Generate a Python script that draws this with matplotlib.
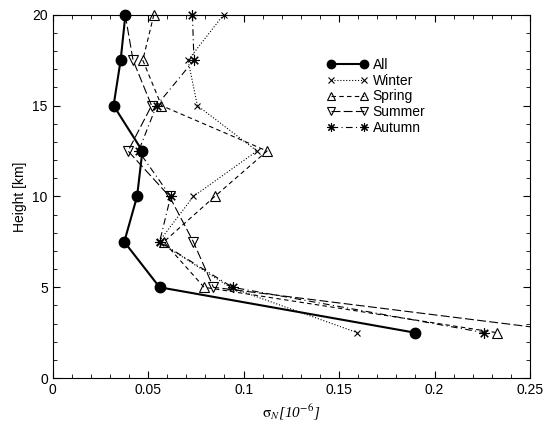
import numpy as np
import matplotlib
matplotlib.use("Agg")
import matplotlib.pyplot as plt
from matplotlib.ticker import MultipleLocator, FuncFormatter

plt.rcParams['font.family'] = ['Liberation Sans', 'DejaVu Sans']
plt.rcParams['mathtext.fontset'] = 'stix'

heights = [20, 17.5, 15, 12.5, 10, 7.5, 5, 2.5]
sig_all = [0.0381, 0.0356, 0.0319, 0.0470, 0.0442, 0.0375, 0.0560, 0.1898]
sig_winter = [0.0895, 0.0709, 0.0758, 0.1070, 0.0737, 0.0556, 0.0930, 0.1596]
sig_spring = [0.0530, 0.0472, 0.0570, 0.1123, 0.0849, 0.0582, 0.0793, 0.2328]
sig_summer = [0.0380, 0.0421, 0.0518, 0.0395, 0.0612, 0.0737, 0.0842, 0.2750]
sig_autumn = [0.0732, 0.0740, 0.0544, 0.0450, 0.0618, 0.0560, 0.0942, 0.2261]

fig = plt.figure(figsize=(5.43, 4.22), dpi=100)
ax = fig.add_axes([0.097, 0.104, 0.879, 0.861])

ax.plot(sig_all, heights, '-o', color='black', lw=1.5, ms=7.5,
        label='All', clip_on=False, zorder=5)
ax.plot(sig_winter, heights, ':x', color='black', lw=0.8, ms=5,
        mew=0.8, label='Winter', clip_on=False)
ax.plot(sig_spring, heights, color='black', ls=(0, (4, 3)), lw=0.8,
        marker='^', ms=7.5, mfc='none', mew=0.8, label='Spring', clip_on=False)
# summer runs off the right edge at 2.5 km, keep it clipped
ax.plot(sig_summer, heights, color='black', ls=(0, (8, 3)), lw=0.8,
        marker='v', ms=7.5, mfc='none', mew=0.8, label='Summer')
ax.plot(sig_autumn, heights, color='black', ls=(0, (6, 3, 1, 3)), lw=0.8,
        marker=(8, 2, 0), ms=7.5, mew=0.8, label='Autumn', clip_on=False)

ax.set_xlim(0, 0.25)
ax.set_ylim(0, 20)
ax.xaxis.set_major_locator(MultipleLocator(0.05))
ax.xaxis.set_minor_locator(MultipleLocator(0.01))
ax.yaxis.set_major_locator(MultipleLocator(5))
ax.yaxis.set_minor_locator(MultipleLocator(1))
ax.xaxis.set_major_formatter(FuncFormatter(lambda v, p: '%g' % round(v, 3)))
ax.tick_params(which='both', direction='in', top=True, right=True,
               labelsize=10, color='black')
ax.tick_params(which='major', length=5)
ax.tick_params(which='minor', length=3)

ax.set_ylabel('Height [km]', fontsize=10)
ax.set_xlabel(r'$\mathrm{\sigma}_{N}$' + '[10' + r'$^{-6}$' + ']',
              fontsize=11, fontstyle='italic', family='Liberation Serif')

ax.legend(loc='upper left', bbox_to_anchor=(0.56, 0.9), frameon=False,
          numpoints=2, handlelength=3.0, handletextpad=0.3,
          labelspacing=0.12, fontsize=10, borderpad=0, markerscale=0.8)

fig.savefig('out.png', dpi=100)
